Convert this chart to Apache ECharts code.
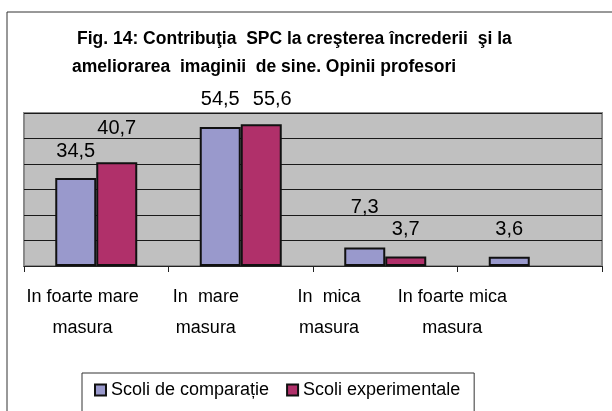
<!DOCTYPE html>
<html>
	<head>
		<meta charset="UTF-8">
		<title>Fig. 14</title>
		<script src="https://cdn.jsdelivr.net/npm/echarts@6/dist/echarts.min.js"></script>
		<style>
			body { margin: 0; background: #fff; }
			#main { width: 612px; height: 411px; }
		</style>
	</head>
	<body>
		<div id="main"></div>
		<script type="text/javascript">
			var titleLines = ['Fig. 14: Contribuţia  SPC la creşterea încrederii  şi la', 'ameliorarea  imaginii  de sine. Opinii profesori'];
			var categories = ['In foarte mare\nmasura', 'In  mare\nmasura', 'In  mica\nmasura', 'In foarte mica\nmasura'];
			var seriesNames = ['Scoli de comparație', 'Scoli experimentale'];
			var comparatie = [34.5, 54.5, 7.3, 3.6];
			var experimentale = [40.7, 55.6, 3.7, null];
			// label placement: lift above the bar, sideways shift
			var liftComparatie = [17, 18, 30, 17];
			var liftExperimentale = [24, 15, 17, 0];
			var shiftComparatie = [0, 0, 0, 0];
			var shiftExperimentale = [0, 11, 0, 0];

			var font = "'Liberation Sans', Arial, sans-serif";

			function buildData(values, lifts, shifts) {
				return values.map(function(v, i) {
					if(v === null) return '-';
					return { value: v, label: { distance: lifts[i], offset: [shifts[i], 0] } };
				});
			}

			function valueLabel(p) {
				return String(p.value).replace('.', ',');
			}

			var titleStyle = {
				fontFamily: font,
				fontSize: 17.5,
				fontWeight: 'bold',
				color: '#000'
			};

			var myChart = echarts.init(document.getElementById('main'));

			myChart.setOption({
				animation: false,
				title: [{
					text: titleLines[0],
					left: 72,
					top: 25,
					textStyle: titleStyle
				}, {
					text: titleLines[1],
					left: 67,
					top: 53,
					textStyle: titleStyle
				}],
				graphic: [{
					type: 'rect',
					z: -1,
					shape: { x: 7, y: 12, width: 700, height: 500 },
					style: { fill: 'none', stroke: '#333', lineWidth: 1 }
				}],
				legend: {
					data: seriesNames,
					left: 82,
					top: 373,
					orient: 'horizontal',
					backgroundColor: '#fff',
					borderColor: '#333',
					borderWidth: 1,
					padding: [8, 14, 40, 12],
					itemWidth: 11,
					itemHeight: 11,
					itemGap: 17,
					icon: 'rect',
					textStyle: { fontFamily: font, fontSize: 18, color: '#000' }
				},
				grid: [{
					left: 24,
					top: 113,
					width: 578,
					height: 153,
					show: true,
					backgroundColor: '#c0c0c0',
					borderColor: '#8a8a8a',
					borderWidth: 2
				}, {
					left: 21,
					top: 113,
					width: 493,
					height: 153
				}],
				xAxis: [{
					type: 'category',
					gridIndex: 0,
					data: categories,
					axisLine: { lineStyle: { color: '#222', width: 1 } },
					axisTick: { show: true, length: 6, lineStyle: { color: '#222' } },
					axisLabel: { show: false }
				}, {
					type: 'category',
					gridIndex: 1,
					data: categories,
					axisLine: { show: false },
					axisTick: { show: false },
					axisLabel: {
						interval: 0,
						margin: 16,
						fontFamily: font,
						fontSize: 18,
						lineHeight: 31,
						color: '#000'
					}
				}],
				yAxis: [{
					type: 'value',
					gridIndex: 0,
					min: 0,
					max: 60,
					interval: 10,
					axisLine: { show: false },
					axisTick: { show: false },
					axisLabel: { show: false },
					splitLine: { lineStyle: { color: '#1a1a1a', width: 1 } }
				}, {
					type: 'value',
					gridIndex: 1,
					show: false
				}],
				series: [{
					name: seriesNames[0],
					type: 'bar',
					barWidth: 41,
					barGap: 0,
					data: buildData(comparatie, liftComparatie, shiftComparatie),
					itemStyle: { color: '#9999cc', borderColor: '#111', borderWidth: 2 },
					label: {
						show: true,
						position: 'top',
						fontFamily: font,
						fontSize: 20,
						color: '#000',
						formatter: valueLabel
					}
				}, {
					name: seriesNames[1],
					type: 'bar',
					barWidth: 41,
					barGap: 0,
					data: buildData(experimentale, liftExperimentale, shiftExperimentale),
					itemStyle: { color: '#b0306a', borderColor: '#111', borderWidth: 2 },
					label: {
						show: true,
						position: 'top',
						fontFamily: font,
						fontSize: 20,
						color: '#000',
						formatter: valueLabel
					}
				}]
			});
		</script>
	</body>
</html>
